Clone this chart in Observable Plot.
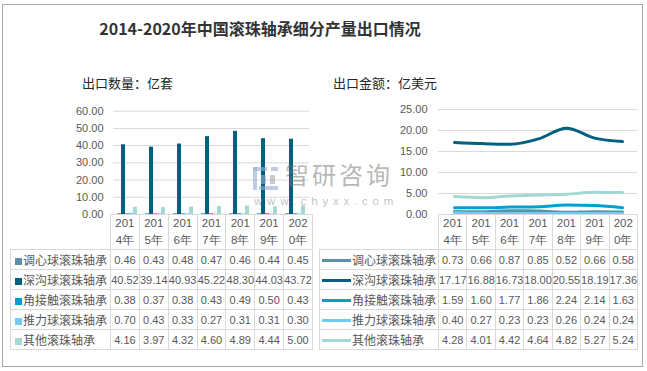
<!DOCTYPE html>
<html><head><meta charset="utf-8">
<script src="https://cdn.jsdelivr.net/npm/d3@7"></script>
<script src="https://cdn.jsdelivr.net/npm/@observablehq/plot@0.6"></script>
<style>
html,body{margin:0;padding:0;background:#fff;}
#root{position:relative;width:647px;height:371px;overflow:hidden;background:#fff;font-family:"Liberation Sans",Arial,sans-serif;}
.abs{position:absolute;}
#frame{left:2px;top:4px;width:639px;height:361px;border:1.5px solid #a8a8a8;}
#title{left:0;top:17px;width:520px;text-align:center;font:bold 16px "Noto Sans CJK SC","Liberation Sans",sans-serif;color:#333;line-height:22px;}
.sub{top:74px;font:13px "Noto Sans CJK SC",sans-serif;color:#262626;line-height:18px;}
table.dt{position:absolute;border-collapse:collapse;table-layout:fixed;}
table.dt td{border:1px solid #d9d9d9;padding:0;text-align:center;font:11px "Liberation Sans",Arial,sans-serif;color:#595959;white-space:nowrap;overflow:visible;height:19px;}
table.dt tr.hd td{height:34px;line-height:17px;font-size:11.5px;}
table.dt tr.hd td.blank{border-top:none;border-left:none;}
table.dt td.leg{text-align:left;font:12px "Noto Sans CJK SC",sans-serif;color:#595959;}
.sw{display:inline-block;width:7px;height:7px;margin:0 1px 0 4px;vertical-align:0px;}
.ln{display:inline-block;width:29px;height:3px;margin:0 1px 0 2px;vertical-align:3px;}
#wm{left:0;top:0;width:647px;height:371px;pointer-events:none;}
</style></head>
<body><div id="root">
<div id="frame" class="abs"></div>
<div id="title" class="abs">2014-2020年中国滚珠轴承细分产量出口情况</div>
<div class="abs sub" style="left:82px">出口数量：亿套</div>
<div class="abs sub" style="left:333px">出口金额：亿美元</div>
<div id="left" class="abs" style="left:0;top:100px"></div>
<div id="right" class="abs" style="left:320px;top:100px"></div>
</div>
<script>
// ---- data ----
const years = ["2014年","2015年","2016年","2017年","2018年","2019年","2020年"];
const seriesNames = ["调心球滚珠轴承","深沟球滚珠轴承","角接触滚珠轴承","推力球滚珠轴承","其他滚珠轴承"];
const seriesColors = ["#5e8fa8","#00607f","#00a0d6","#6fcdf0","#a3d8d4"];

// export quantity (亿套)
const qtySelfAligning = [0.46,0.43,0.48,0.47,0.46,0.44,0.45];
const qtyDeepGroove   = [40.52,39.14,40.93,45.22,48.30,44.03,43.72];
const qtyAngular      = [0.38,0.37,0.38,0.43,0.49,0.50,0.43];
const qtyThrust       = [0.70,0.43,0.33,0.27,0.31,0.31,0.30];
const qtyOther        = [4.16,3.97,4.32,4.60,4.89,4.44,5.00];

// export value (亿美元)
const valSelfAligning = [0.73,0.66,0.87,0.85,0.52,0.66,0.58];
const valDeepGroove   = [17.17,16.88,16.73,18.00,20.55,18.19,17.36];
const valAngular      = [1.59,1.60,1.77,1.86,2.24,2.14,1.63];
const valThrust       = [0.40,0.27,0.23,0.23,0.26,0.24,0.24];
const valOther        = [4.28,4.01,4.42,4.64,4.82,5.27,5.24];

const qtyTicks = [0,10,20,30,40,50,60];
const valTicks = [0,5,10,15,20,25];

// ---- build ----
const qtySeries = [qtySelfAligning,qtyDeepGroove,qtyAngular,qtyThrust,qtyOther];
const valSeries = [valSelfAligning,valDeepGroove,valAngular,valThrust,valOther];
const toRows = (arrs) => arrs.flatMap((a,si)=>a.map((v,yi)=>({series:seriesNames[si],year:years[yi],value:v})));
const qtyRows = toRows(qtySeries);
const valRows = toRows(valSeries);
const fmt = d3.format(".2f");
const axStyle = {fontFamily:'"Liberation Sans",Arial,sans-serif',fontSize:"11px",color:"#595959",background:"transparent",overflow:"visible"};

const left = Plot.plot({
  width:320, height:124,
  marginLeft:110, marginRight:8, marginTop:10.7, marginBottom:10,
  facet:{data:qtyRows, x:"year", label:null},
  fx:{domain:years, padding:0, axis:null},
  x:{domain:seriesNames, paddingInner:0.08, paddingOuter:0.95, axis:null},
  y:{domain:[0,60], ticks:qtyTicks, tickFormat:fmt, tickSize:0, tickPadding:10, label:null},
  color:{domain:seriesNames, range:seriesColors},
  style:axStyle,
  marks:[
    Plot.ruleY(qtyTicks,{stroke:"#d9d9d9"}),
    Plot.barY(qtyRows,{x:"series", y:"value", fill:"series"})
  ]
});
document.getElementById("left").appendChild(left);

const right = Plot.plot({
  width:327, height:124,
  marginLeft:118, marginRight:10, marginTop:9, marginBottom:10,
  x:{type:"band", domain:years, padding:0, axis:null},
  y:{domain:[0,25], ticks:valTicks, tickFormat:fmt, tickSize:0, tickPadding:11, label:null},
  color:{domain:seriesNames, range:seriesColors},
  style:axStyle,
  marks:[
    Plot.ruleY(valTicks,{stroke:"#d9d9d9"}),
    Plot.line(valRows,{x:"year", y:"value", z:"series", stroke:"series", strokeWidth:3, curve:"monotone-x"})
  ]
});
document.getElementById("right").appendChild(right);

// ---- data tables ----
function makeTable(leftPx, legW, colW, arrs, marker){
  const t = document.createElement("table");
  t.className = "dt";
  t.style.left = leftPx + "px";
  t.style.top = "214px";
  t.style.width = (legW + colW*years.length) + "px";
  const cg = document.createElement("colgroup");
  const c0 = document.createElement("col"); c0.style.width = legW+"px"; cg.appendChild(c0);
  years.forEach(()=>{const c=document.createElement("col"); c.style.width=colW+"px"; cg.appendChild(c);});
  t.appendChild(cg);
  const hr = t.insertRow(); hr.className="hd";
  const b = hr.insertCell(); b.className="blank";
  years.forEach(y=>{const c=hr.insertCell(); c.innerHTML=y.slice(0,3)+"<br>"+y.slice(3);});
  arrs.forEach((a,si)=>{
    const r = t.insertRow();
    const l = r.insertCell(); l.className="leg";
    const m = document.createElement("span");
    m.className = marker; m.style.background = seriesColors[si];
    l.appendChild(m); l.appendChild(document.createTextNode(seriesNames[si]));
    a.forEach(v=>{const c=r.insertCell(); c.textContent=fmt(v);});
  });
  document.getElementById("root").appendChild(t);
}
makeTable(10, 100, 202/7, qtySeries, "sw");
makeTable(319, 119, 199/7, valSeries, "ln");

// ---- watermark ----
const wm = document.createElement("div");
wm.id="wm"; wm.className="abs";
wm.innerHTML = `
<div class="abs" style="left:253px;top:167px;width:14px;height:4px;background:rgba(150,170,210,0.6)"></div>
<div class="abs" style="left:253px;top:167px;width:4px;height:23px;background:rgba(150,170,210,0.6)"></div>
<div class="abs" style="left:271px;top:167px;width:7px;height:4px;background:rgba(150,170,210,0.6)"></div>
<div class="abs" style="left:261px;top:175px;width:5px;height:9px;background:rgba(150,170,210,0.6)"></div>
<div class="abs" style="left:270px;top:175px;width:5px;height:9px;background:rgba(150,150,160,0.5)"></div>
<div class="abs" style="left:259px;top:186px;width:19px;height:4px;background:rgba(150,170,210,0.6)"></div>
<div class="abs" style="left:285px;top:162px;font:24px 'Noto Sans CJK SC',sans-serif;letter-spacing:3px;color:rgba(120,120,120,0.55);line-height:24px;">智研咨询</div>
<div class="abs" style="left:254px;top:194px;font:11.5px 'Liberation Sans',sans-serif;letter-spacing:4.8px;color:rgba(130,130,130,0.5);line-height:14px;">www.chyxx.com</div>`;
document.getElementById("root").appendChild(wm);
</script>
</body></html>
